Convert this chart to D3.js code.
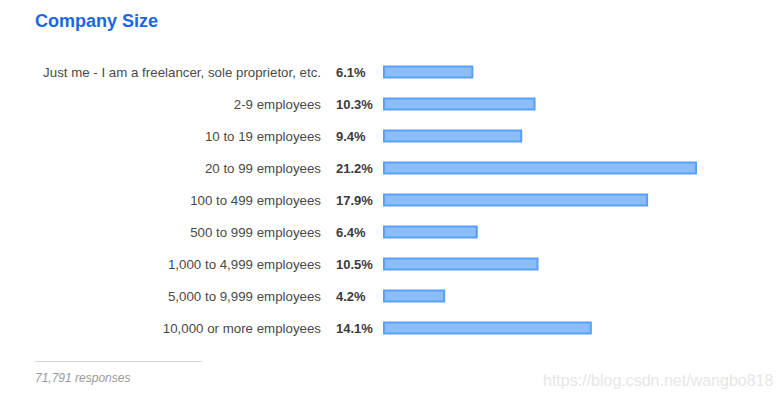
<!DOCTYPE html>
<html>
<head>
<meta charset="utf-8">
<script src="https://cdn.jsdelivr.net/npm/d3@7"></script>
<style>
  body { margin: 0; background: #fff; }
  text { font-family: "Liberation Sans", Arial, sans-serif; }
</style>
</head>
<body>
<div id="chart"></div>
<script>
// data
const categories = [
  "Just me - I am a freelancer, sole proprietor, etc.",
  "2-9 employees",
  "10 to 19 employees",
  "20 to 99 employees",
  "100 to 499 employees",
  "500 to 999 employees",
  "1,000 to 4,999 employees",
  "5,000 to 9,999 employees",
  "10,000 or more employees"
];
const percents = [6.1, 10.3, 9.4, 21.2, 17.9, 6.4, 10.5, 4.2, 14.1];
const responses = "71,791 responses";

const width = 780, height = 399;

const svg = d3.select("#chart").append("svg")
  .attr("width", width)
  .attr("height", height);

svg.append("text")
  .attr("x", 35)
  .attr("y", 27)
  .attr("font-size", 18)
  .attr("font-weight", "bold")
  .attr("fill", "#1967e3")
  .text("Company Size");

const y = d3.scalePoint()
  .domain(categories)
  .range([72, 328]);

const x = d3.scaleLinear()
  .domain([0, 21.2])
  .range([383, 697]);

const rows = svg.selectAll("g.row")
  .data(categories)
  .enter().append("g")
  .attr("class", "row")
  .attr("transform", d => "translate(0," + y(d) + ")");

rows.append("text")
  .attr("x", 321)
  .attr("dy", "0.35em")
  .attr("text-anchor", "end")
  .attr("font-size", 13.3)
  .attr("fill", "#4a4a4a")
  .text(d => d);

rows.append("text")
  .attr("x", 336)
  .attr("dy", "0.35em")
  .attr("font-size", 13)
  .attr("font-weight", "bold")
  .attr("fill", "#3b3b3b")
  .text((d, i) => percents[i].toFixed(1) + "%");

rows.append("rect")
  .attr("x", x(0) + 1)
  .attr("y", -5.5)
  .attr("height", 11)
  .attr("width", (d, i) => x(percents[i]) - x(0) - 2)
  .attr("fill", "#8bbdf9")
  .attr("stroke", "#5a9ff5")
  .attr("stroke-width", 2);

svg.append("line")
  .attr("x1", 35).attr("x2", 202)
  .attr("y1", 361.5).attr("y2", 361.5)
  .attr("stroke", "#d4d4d4");

svg.append("text")
  .attr("x", 35)
  .attr("y", 382)
  .attr("font-size", 12)
  .attr("font-style", "italic")
  .attr("fill", "#9a9a9a")
  .text(responses);

svg.append("text")
  .attr("x", 543)
  .attr("y", 386)
  .attr("font-size", 16)
  .attr("fill", "#e6e6e6")
  .text("https://blog.csdn.net/wangbo818");
</script>
</body>
</html>
